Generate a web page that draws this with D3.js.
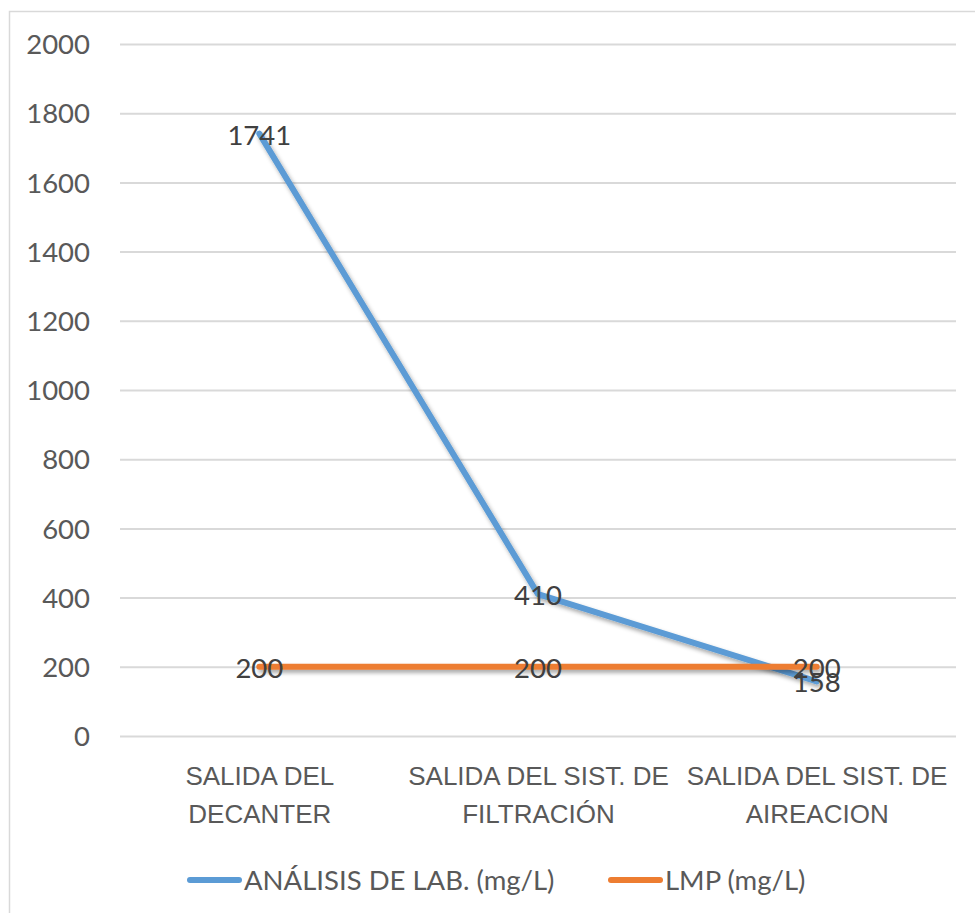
<!DOCTYPE html>
<html>
<head>
<meta charset="utf-8">
<script src="https://cdn.jsdelivr.net/npm/d3@7"></script>
<style>
	body { margin: 0; background: #fff; }
	svg { display: block; font-family: Lato, "Open Sans", sans-serif; }
</style>
</head>
<body>
<svg width="975" height="913"></svg>
<script>
// chart values
var categories = ["SALIDA DEL DECANTER", "SALIDA DEL SIST. DE FILTRACIÓN", "SALIDA DEL SIST. DE AIREACION"];
var categoryLines = [["SALIDA DEL", "DECANTER"], ["SALIDA DEL SIST. DE", "FILTRACIÓN"], ["SALIDA DEL SIST. DE", "AIREACION"]];
var analisisValues = [1741, 410, 158];
var lmpValues = [200, 200, 200];
var seriesNames = ["ANÁLISIS DE LAB. (mg/L)", "LMP (mg/L)"];
var seriesColors = ["#5b9bd5", "#ed7d31"];
var yTicks = [0, 200, 400, 600, 800, 1000, 1200, 1400, 1600, 1800, 2000];

var svg = d3.select("svg");

// outer chart border
svg.append("rect")
	.attr("x", 9.5)
	.attr("y", 11.5)
	.attr("width", 1000)
	.attr("height", 1000)
	.attr("fill", "none")
	.attr("stroke", "#d9d9d9")
	.attr("stroke-width", 1.5);

var plotLeft = 120, plotRight = 956, plotTop = 44, plotBottom = 736;

var x = d3.scalePoint()
	.domain(categories)
	.range([plotLeft, plotRight])
	.padding(0.5);

var y = d3.scaleLinear()
	.domain([0, 2000])
	.range([plotBottom, plotTop]);

// shadow for the lines (user space, so the flat line still gets drawn)
var defs = svg.append("defs");
defs.append("filter")
	.attr("id", "shadow")
	.attr("filterUnits", "userSpaceOnUse")
	.attr("x", 0).attr("y", 0)
	.attr("width", 975).attr("height", 913)
	.append("feDropShadow")
	.attr("dx", 2)
	.attr("dy", 3)
	.attr("stdDeviation", 2)
	.attr("flood-color", "#000")
	.attr("flood-opacity", 0.35);

// gridlines + y labels
var yAxis = d3.axisLeft(y)
	.tickValues(yTicks)
	.tickFormat(d3.format("d"))
	.tickSize(-(plotRight - plotLeft))
	.tickPadding(30);

var gy = svg.append("g")
	.attr("transform", "translate(" + plotLeft + ",0)")
	.call(yAxis);
gy.select(".domain").remove();
gy.selectAll(".tick line")
	.attr("stroke", "#d9d9d9")
	.attr("stroke-width", 2);
gy.selectAll(".tick text")
	.attr("fill", "#595959")
	.attr("font-size", 27.5)
	.attr("font-family", "Lato, 'Open Sans', sans-serif")
	.attr("dy", "0.35em");

// category labels
var xAxis = d3.axisBottom(x)
	.tickSize(0)
	.tickFormat("");
var gx = svg.append("g")
	.attr("transform", "translate(0," + plotBottom + ")")
	.call(xAxis);
gx.select(".domain").remove();
gx.selectAll(".tick").each(function(d, i) {
	var t = d3.select(this).append("text")
		.attr("fill", "#595959")
		.attr("font-size", 26)
		.attr("text-anchor", "middle");
	categoryLines[i].forEach(function(line, k) {
		t.append("tspan")
			.attr("x", 0)
			.attr("y", 49 + k * 38)
			.text(line);
	});
});

// lines
var line = d3.line()
	.x(function(d, i) { return x(categories[i]); })
	.y(function(d) { return y(d); });

var seriesData = [analisisValues, lmpValues];
seriesData.forEach(function(vals, s) {
	svg.append("path")
		.datum(vals)
		.attr("d", line)
		.attr("fill", "none")
		.attr("stroke", seriesColors[s])
		.attr("stroke-width", 6)
		.attr("stroke-linecap", "round")
		.attr("stroke-linejoin", "round")
		.attr("filter", "url(#shadow)");
});

// data labels centred on the points
seriesData.forEach(function(vals, s) {
	svg.append("g").selectAll("text")
		.data(vals)
		.enter()
		.append("text")
		.attr("x", function(d, i) { return x(categories[i]); })
		.attr("y", function(d) { return y(d); })
		.attr("dy", "0.4em")
		.attr("text-anchor", "middle")
		.attr("fill", "#404040")
		.attr("font-size", 27.5)
		.text(function(d) { return d; });
});

// legend
var legendItems = [
	{ name: seriesNames[0], color: seriesColors[0], x: 187 },
	{ name: seriesNames[1], color: seriesColors[1], x: 608 }
];
var legendY = 880;
legendItems.forEach(function(item) {
	svg.append("line")
		.attr("x1", item.x + 3)
		.attr("x2", item.x + 52)
		.attr("y1", legendY)
		.attr("y2", legendY)
		.attr("stroke", item.color)
		.attr("stroke-width", 6)
		.attr("stroke-linecap", "round");
	svg.append("text")
		.attr("x", item.x + 57)
		.attr("y", legendY)
		.attr("dy", "0.35em")
		.attr("fill", "#595959")
		.attr("font-size", 27.5)
		.text(item.name);
});
</script>
</body>
</html>
